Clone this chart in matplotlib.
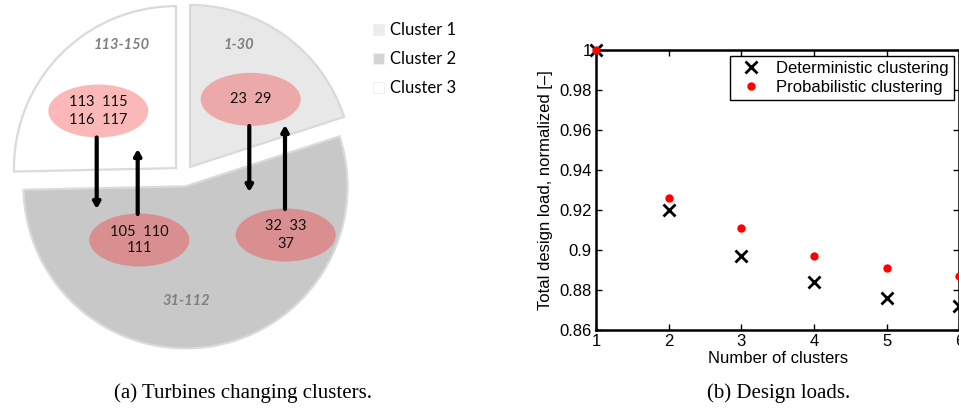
import matplotlib
matplotlib.use("Agg")
import matplotlib.pyplot as plt
from matplotlib.patches import Ellipse, Patch
from matplotlib.ticker import FixedLocator, FixedFormatter

# ---------------- data ----------------
cluster_labels = ["Cluster 1", "Cluster 2", "Cluster 3"]
cluster_ranges = ["1-30", "31-112", "113-150"]
cluster_sizes = [30, 82, 38]          # turbines 1-30, 31-112, 113-150
cluster_colors = ["#e8e8e8", "#c8c8c8", "#ffffff"]

moved_groups = [["113  115", "116  117"], ["23  29"], ["105  110", "111"], ["32  33", "37"]]
moved_colors = ["#fbb8b8", "#eca9a9", "#d98f8f", "#d98f8f"]

n_clusters = [1, 2, 3, 4, 5, 6]
deterministic = [1.0, 0.920, 0.897, 0.884, 0.876, 0.872]
probabilistic = [1.0, 0.926, 0.911, 0.897, 0.891, 0.887]

yticks = [0.86, 0.88, 0.90, 0.92, 0.94, 0.96, 0.98, 1.0]
ytick_labels = ["0.86", "0.88", "0.9", "0.92", "0.94", "0.96", "0.98", "1"]

W, H = 959, 409
fig = plt.figure(figsize=(W / 100, H / 100), dpi=100)

# ---------------- left panel (pixel coordinates, y up) ----------------
axL = fig.add_axes([0, 0, 1, 1])
wedges, _ = axL.pie(cluster_sizes, explode=[10.8] * 3, colors=cluster_colors,
                    startangle=90, counterclock=False, radius=162,
                    center=(183.7, H - 175.7), frame=True,
                    wedgeprops=dict(edgecolor="#dadada", linewidth=1.6))
axL.set_xlim(0, W)
axL.set_ylim(0, H)
axL.set_aspect("auto")
axL.axis("off")

lato = ["Lato", "DejaVu Sans"]
range_pos = [(239, 45), (186, 301), (122, 45)]
for txt, (x, y) in zip(cluster_ranges, range_pos):
    axL.text(x, H - y, txt, ha="center", va="center", fontsize=10.5, color="#808080",
             fontweight="bold", fontstyle="italic", family=lato)

ell_specs = [(98.3, 111), (250.7, 99.3), (139.3, 240), (285.7, 235)]
for (cx, cy), lines, col in zip(ell_specs, moved_groups, moved_colors):
    axL.add_patch(Ellipse((cx, H - cy), 100, 53, facecolor=col, edgecolor="none", zorder=3))
    n = len(lines)
    for i, ln in enumerate(lines):
        off = (i - (n - 1) / 2) * 17
        axL.text(cx, H - cy - off, ln, ha="center", va="center", fontsize=10.5,
                 color="#111111", family=lato, zorder=4)

arrows = [((96.7, 137.5), (96.7, 209)), ((137.7, 214), (137.7, 149)),
          ((249.3, 126), (249.3, 192)), ((285, 209), (285, 125))]
for (x0, y0), (x1, y1) in arrows:
    axL.annotate("", xy=(x1, H - y1), xytext=(x0, H - y0),
                 arrowprops=dict(arrowstyle="-|>,head_length=0.35,head_width=0.2",
                                 lw=3, color="black", shrinkA=0, shrinkB=0),
                 zorder=5)

handles = [Patch(facecolor=c, edgecolor="#f0f0f0", linewidth=0.8) for c in ["#ececec", "#d4d4d4", "#ffffff"]]
axL.legend(handles, cluster_labels, loc="upper left", bbox_to_anchor=(373, H - 22),
           bbox_transform=axL.transData, frameon=False, prop=dict(family=lato, size=12),
           handlelength=0.65, handleheight=0.65, handletextpad=0.35, labelspacing=0.78,
           borderaxespad=0, borderpad=0)

fig.text(243 / W, 1 - 393 / H, "(a) Turbines changing clusters.", ha="center", va="center",
         family="Liberation Serif", fontsize=15)
fig.text(779 / W, 1 - 393 / H, "(b) Design loads.", ha="center", va="center",
         family="Liberation Serif", fontsize=15)

# ---------------- right panel ----------------
sans = "Liberation Sans"
axR = fig.add_axes([596 / W, 1 - 330 / H, 363.3 / W, 280 / H])
axR.plot(n_clusters, deterministic, linestyle="none", marker="x", color="black",
         markersize=8.5, markeredgewidth=2, label="Deterministic clustering", clip_on=False, zorder=3)
axR.plot(n_clusters, probabilistic, linestyle="none", marker="o", color="red",
         markersize=6, markeredgewidth=0, label="Probabilistic clustering", clip_on=False, zorder=4)
axR.set_xlim(1, 6)
axR.set_ylim(0.86, 1.0)
axR.yaxis.set_major_locator(FixedLocator(yticks))
axR.yaxis.set_major_formatter(FixedFormatter(ytick_labels))
axR.set_xticks(n_clusters)
for s in axR.spines.values():
    s.set_linewidth(1.8)
axR.tick_params(direction="in", top=True, right=True, length=4, width=1,
                labelsize=12, pad=3)
for lab in axR.get_xticklabels() + axR.get_yticklabels():
    lab.set_family(sans)
axR.set_xlabel("Number of clusters", family=sans, fontsize=12, labelpad=1)
axR.set_ylabel("Total design load, normalized [–]", family=sans, fontsize=12)
axR.yaxis.set_label_coords(-0.118, 0.5)
leg = axR.legend(loc="upper right", bbox_to_anchor=(0.9854, 0.9786), borderaxespad=0,
                 fancybox=False, edgecolor="black", framealpha=1,
                 prop=dict(family=sans, size=12), handlelength=2.0, handletextpad=0.5,
                 labelspacing=0.25, borderpad=0.3)
leg.get_frame().set_linewidth(1.0)

fig.savefig("out.png", dpi=100)
